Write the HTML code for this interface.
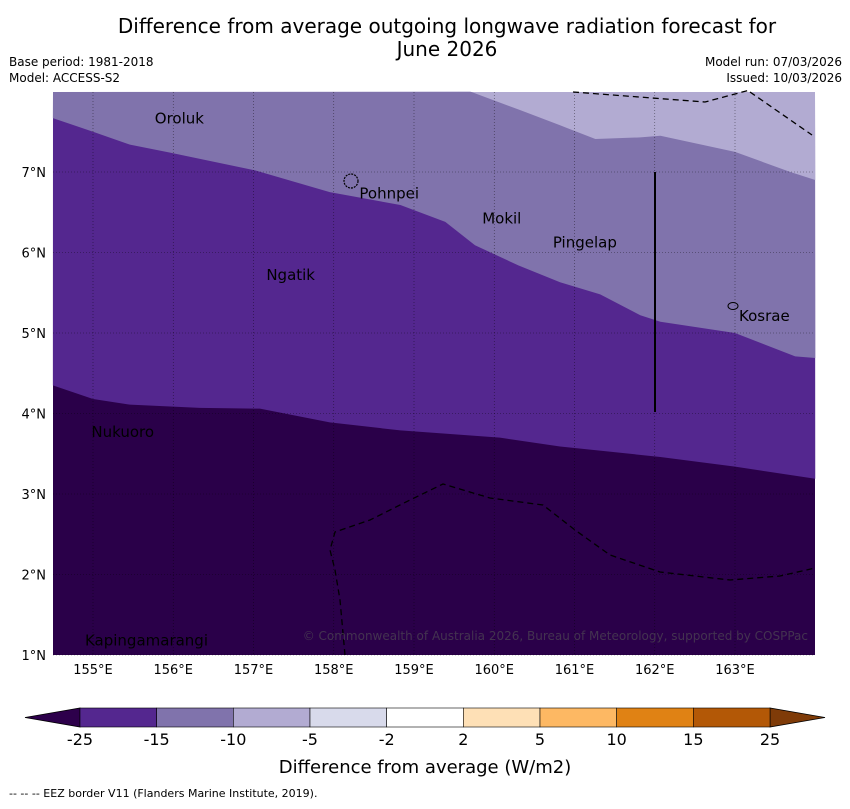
<!DOCTYPE html>
<html><head><meta charset="utf-8"><style>
body{margin:0;background:#fff;font-family:"Liberation Sans","DejaVu Sans",sans-serif;}
svg text{font-family:"DejaVu Sans","Liberation Sans",sans-serif;}
</style></head><body>
<svg id="c" width="850" height="804" xmlns="http://www.w3.org/2000/svg">
<text x="447" y="33" font-size="20" text-anchor="middle">Difference from average outgoing longwave radiation forecast for</text>
<text x="447" y="56" font-size="20" text-anchor="middle">June 2026</text>
<text x="9" y="66" font-size="12">Base period: 1981-2018</text>
<text x="9" y="82" font-size="12">Model: ACCESS-S2</text>
<text x="842" y="66" font-size="12" text-anchor="end">Model run: 07/03/2026</text>
<text x="842" y="82" font-size="12" text-anchor="end">Issued: 10/03/2026</text>
<g id="map"></g>
<g id="cbar"></g>
<text x="425" y="773" font-size="18" text-anchor="middle">Difference from average (W/m2)</text>
<text x="9" y="797" font-size="11">--  --  -- EEZ border V11 (Flanders Marine Institute, 2019).</text>
</svg>
<script>
const NS="http://www.w3.org/2000/svg";
const lonTicks=[155,156,157,158,159,160,161,162,163];
const latTicks=[1,2,3,4,5,6,7];
// contour boundary between -25..-15 and <-25
const darkLon=[154.5,155,155.46,156.33,157.08,157.95,158.83,160.07,160.82,162.07,163,164];
const darkLat=[4.35,4.18,4.11,4.07,4.06,3.89,3.79,3.70,3.59,3.46,3.34,3.19];
// boundary between -15..-10 and -25..-15
const midLon=[154.5,155,155.46,155.96,157.02,157.95,158.83,159.39,159.76,160.3,160.82,161.32,161.82,162.07,163,163.75,164];
const midLat=[7.67,7.50,7.34,7.24,7.02,6.75,6.59,6.38,6.09,5.84,5.63,5.48,5.22,5.14,5.0,4.71,4.69];
// boundary between -10..-5 and -15..-10
const lightLon=[159.7,160.32,160.82,161.26,161.82,162.07,163,163.69,164];
const lightLat=[8.0,7.77,7.58,7.41,7.43,7.45,7.25,7.0,6.9];
const places=["Oroluk","Pohnpei","Mokil","Pingelap","Ngatik","Kosrae","Nukuoro","Kapingamarangi"];
const placeLon=[155.77,158.32,159.85,160.73,157.16,163.05,154.98,154.9];
const placeLat=[7.6,6.67,6.36,6.06,5.66,5.15,3.71,1.12];
const levels=["-25","-15","-10","-5","-2","2","5","10","15","25"];
const colors=["#54278f","#8073ac","#b2abd2","#d8daeb","#ffffff","#fee0b6","#fdb863","#e08214","#b35806"];
const X0=53,X1=815,Y0=92,Y1=655;
const x=lon=>93+(lon-155)*80.25;
const y=lat=>172-(lat-7)*80.5;
const map=document.getElementById('map');
function mk(t,a,p){const e=document.createElementNS(NS,t);for(const k in a)e.setAttribute(k,a[k]);(p||map).appendChild(e);return e;}
let r=mk('rect',{x:X0,y:Y0,width:X1-X0,height:Y1-Y0,fill:'#2a0049'});


function poly(lons,lats,closeTop,fill,name){
  let pts=lons.map((l,i)=>x(l)+','+y(lats[i]));
  pts.push(X1+','+Y0);pts.push(X0+','+Y0);
  const p=mk('polygon',{points:pts.join(' '),fill:fill});
  
  
}
poly(darkLon,darkLat,true,'#54278f','region-minus25-minus15');
poly(midLon,midLat,true,'#8073ac','region-minus15-minus10');
poly(lightLon,lightLat,true,'#b2abd2','region-minus10-minus5');
// grid
lonTicks.forEach(l=>{
  const g=mk('line',{x1:x(l),x2:x(l),y1:Y0,y2:Y1,stroke:'#000','stroke-width':0.6,'stroke-dasharray':'1,2',opacity:0.6});
  
  
  const t=mk('text',{x:x(l),y:674,'font-size':13,'text-anchor':'middle'});t.textContent=l+'°E';
  
  
});
latTicks.forEach(l=>{
  const g=mk('line',{x1:X0,x2:X1,y1:y(l),y2:y(l),stroke:'#000','stroke-width':0.6,'stroke-dasharray':'1,2',opacity:0.6});
  
  
  const t=mk('text',{x:46,y:y(l)+5,'font-size':13,'text-anchor':'end'});t.textContent=l+'°N';
  
  
});
// EEZ dashed lines
const eez=[[[573,92],[705,102],[750,90]],[[750,92],[812,135]],[[345,655],[340,600],[335,570],[330,550],[335,532],[370,520],[410,500],[443,484],[490,498],[543,505],[575,530],[610,555],[660,572],[730,580],[780,576],[815,568]]];
eez.forEach(s=>{const p=mk('polyline',{points:s.map(q=>q.join(',')).join(' '),fill:'none',stroke:'#000','stroke-width':1.3,'stroke-dasharray':'6,4'});

});
let vl=mk('line',{x1:655,x2:655,y1:172,y2:412,stroke:'#000','stroke-width':2});


// islands
let pi=mk('circle',{cx:351,cy:181,r:7,fill:'none',stroke:'#000','stroke-width':1.2,'stroke-dasharray':'2,1'});


let ki=mk('ellipse',{cx:733,cy:306,rx:5,ry:3.5,fill:'none',stroke:'#000','stroke-width':1});


places.forEach((n,i)=>{const t=mk('text',{x:x(placeLon[i]),y:y(placeLat[i]),'font-size':15});t.textContent=n;

});
let cp=mk('text',{x:808,y:640,'font-size':12,'text-anchor':'end',fill:'#555',opacity:0.6});
cp.textContent='© Commonwealth of Australia 2026, Bureau of Meteorology, supported by COSPPac';


let fr=mk('rect',{x:X0,y:Y0,width:X1-X0,height:Y1-Y0,fill:'none',stroke:'none'});
// colorbar
const cb=document.getElementById('cbar');
const bx0=80,bx1=770,by=708,bh=19,w=(bx1-bx0)/colors.length;
let lt=mk('polygon',{points:`25,${by+bh/2} ${bx0},${by} ${bx0},${by+bh}`,fill:'#2d004b',stroke:'#000','stroke-width':0.8},cb);


let rt=mk('polygon',{points:`825,${by+bh/2} ${bx1},${by} ${bx1},${by+bh}`,fill:'#7f3b08',stroke:'#000','stroke-width':0.8},cb);


colors.forEach((c,i)=>{const s=mk('rect',{x:bx0+i*w,y:by,width:w,height:bh,fill:c,stroke:'#000','stroke-width':0.6},cb);

});
levels.forEach((l,i)=>{const t=mk('text',{x:bx0+i*w,y:745,'font-size':16,'text-anchor':'middle'},cb);t.textContent=l;

});
</script>
</body></html>
